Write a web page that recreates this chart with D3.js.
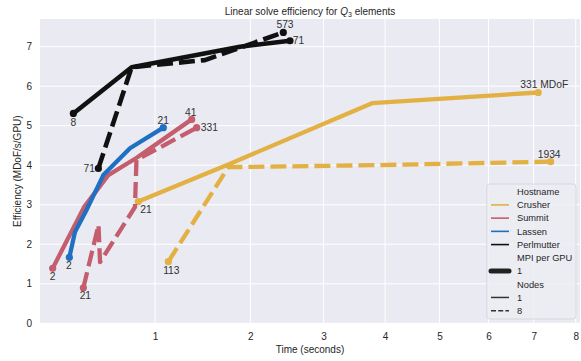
<!DOCTYPE html>
<html>
<head>
<meta charset="utf-8"/>
<script src="https://cdn.jsdelivr.net/npm/d3@7"></script>
<style>
body { margin: 0; background: #fff; }
text { font-family: "Liberation Sans", Arial, sans-serif; fill: #262626; }
.grid line { stroke: #fff; stroke-width: 1; }
.axis path { display: none; }
.axis text { font-size: 10px; }
.point-label { font-size: 10.3px; fill: #333; }
.legend text { font-size: 9.3px; }
</style>
</head>
<body>
<svg id="chart" width="581" height="361"></svg>
<script>
// ---- data ----
var hostnames = ["Crusher", "Summit", "Lassen", "Perlmutter"];
var mpiPerGpu = ["1"];
var nodeCounts = ["1", "8"];
var xTicks = [1, 2, 3, 4, 5, 6, 7, 8];
var yTicks = [0, 1, 2, 3, 4, 5, 6, 7];

var crusher1Time = [0.860, 1.738, 3.775, 7.105];
var crusher1Eff  = [3.08, 4.02, 5.57, 5.84];
var crusher1Labels = ["21", "331 MDoF"];

var crusher8Time = [1.119, 1.738, 3.775, 7.396];
var crusher8Eff  = [1.56, 3.95, 4.00, 4.09];
var crusher8Labels = ["113", "1934"];

var summit1Time = [0.308, 0.478, 0.635, 0.847, 1.344];
var summit1Eff  = [1.39, 2.94, 3.75, 4.19, 5.16];
var summit1Labels = ["2", "41"];

var summit8Time = [0.474, 0.569, 0.579, 0.833, 0.845, 1.395];
var summit8Eff  = [0.90, 2.49, 1.55, 2.94, 4.13, 4.95];
var summit8Labels = ["21", "331"];

var lassen1Time = [0.394, 0.425, 0.490, 0.601, 0.794, 1.073];
var lassen1Eff  = [1.67, 2.31, 2.84, 3.75, 4.43, 4.95];
var lassen1Labels = ["2", "21"];

var perlmutter1Time = [0.416, 0.807, 1.875, 2.517];
var perlmutter1Eff  = [5.31, 6.48, 7.00, 7.15];
var perlmutter1Labels = ["8", "71"];

var perlmutter8Time = [0.568, 0.807, 1.481, 2.426];
var perlmutter8Eff  = [3.92, 6.48, 6.66, 7.36];
var perlmutter8Labels = ["71", "573"];

// ---- styling ----
var hostColor = {
  "Crusher": "#e3b043",
  "Summit": "#c45e6e",
  "Lassen": "#1f6fc2",
  "Perlmutter": "#111111"
};
var nodeDash = { "1": null, "8": "16,6" };

// label placement [dx, dy, anchor] for first and last point
var labelPlace = {
  "Crusher1":    [[2, 11, "start"], [6, -4.7, "middle"]],
  "Crusher8":    [[3, 12.3, "middle"], [-1.5, -3.5, "middle"]],
  "Summit1":     [[0, 12, "middle"], [-1, -3.5, "middle"]],
  "Summit8":     [[2, 11.6, "middle"], [4, 3, "start"]],
  "Lassen1":     [[-0.6, 12, "middle"], [0, -3.7, "middle"]],
  "Perlmutter1": [[0, 12.4, "middle"], [2.7, 3.6, "start"]],
  "Perlmutter8": [[-3.3, 3.4, "end"], [1.7, -4.3, "middle"]]
};

var series = [
  {host: "Crusher", nodes: "1", time: crusher1Time, eff: crusher1Eff, labels: crusher1Labels},
  {host: "Crusher", nodes: "8", time: crusher8Time, eff: crusher8Eff, labels: crusher8Labels},
  {host: "Summit", nodes: "1", time: summit1Time, eff: summit1Eff, labels: summit1Labels},
  {host: "Summit", nodes: "8", time: summit8Time, eff: summit8Eff, labels: summit8Labels},
  {host: "Lassen", nodes: "1", time: lassen1Time, eff: lassen1Eff, labels: lassen1Labels},
  {host: "Perlmutter", nodes: "1", time: perlmutter1Time, eff: perlmutter1Eff, labels: perlmutter1Labels},
  {host: "Perlmutter", nodes: "8", time: perlmutter8Time, eff: perlmutter8Eff, labels: perlmutter8Labels}
];

// ---- layout ----
var plot = {left: 40, top: 19, right: 580, bottom: 323.3};

var x = d3.scaleSqrt()
    .domain([0.25, 8])
    .range([plot.left, 575.7]);
var y = d3.scaleLinear()
    .domain([0, 7.7])
    .range([plot.bottom, plot.top]);

var svg = d3.select("#chart");

svg.append("rect")
    .attr("x", plot.left).attr("y", plot.top)
    .attr("width", plot.right - plot.left)
    .attr("height", plot.bottom - plot.top)
    .attr("fill", "#eaeaf2");

// grid
var grid = svg.append("g").attr("class", "grid");
grid.selectAll("line.v").data(xTicks).enter().append("line")
    .attr("class", "v")
    .attr("x1", function(d) { return x(d); }).attr("x2", function(d) { return x(d); })
    .attr("y1", plot.top).attr("y2", plot.bottom);
grid.selectAll("line.h").data(yTicks).enter().append("line")
    .attr("class", "h")
    .attr("x1", plot.left).attr("x2", plot.right)
    .attr("y1", function(d) { return y(d); }).attr("y2", function(d) { return y(d); });

// axes
svg.append("g")
    .attr("class", "axis")
    .attr("transform", "translate(0," + plot.bottom + ")")
    .call(d3.axisBottom(x).tickValues(xTicks).tickFormat(d3.format("d")).tickSize(0).tickPadding(9.6))
    .selectAll("text").attr("fill", "#262626");
svg.append("g")
    .attr("class", "axis")
    .attr("transform", "translate(" + plot.left + ",0)")
    .call(d3.axisLeft(y).tickValues(yTicks).tickFormat(d3.format("d")).tickSize(0).tickPadding(8))
    .selectAll("text").attr("fill", "#262626");

svg.append("text")
    .attr("x", (plot.left + plot.right) / 2).attr("y", 353)
    .attr("text-anchor", "middle").attr("font-size", "10px")
    .text("Time (seconds)");
svg.append("text")
    .attr("transform", "translate(20.5," + ((plot.top + plot.bottom) / 2) + ") rotate(-90)")
    .attr("text-anchor", "middle").attr("font-size", "10px")
    .text("Efficiency (MDoF/s/GPU)");

var title = svg.append("text")
    .attr("x", (plot.left + plot.right) / 2).attr("y", 14.5)
    .attr("text-anchor", "middle").attr("font-size", "10px");
title.append("tspan").text("Linear solve efficiency for ");
title.append("tspan").attr("font-style", "italic").text("Q");
title.append("tspan").attr("font-size", "7px").attr("dy", 2).text("3");
title.append("tspan").attr("dy", -2).text(" elements");

// lines
var line = d3.line()
    .x(function(d) { return x(d[0]); })
    .y(function(d) { return y(d[1]); });

var marks = svg.append("g");
series.forEach(function(s) {
  var pts = s.time.map(function(t, i) { return [t, s.eff[i]]; });
  marks.append("path")
      .datum(pts)
      .attr("fill", "none")
      .attr("stroke", hostColor[s.host])
      .attr("stroke-width", s.host === "Perlmutter" ? 4.6 : 4.3)
      .attr("stroke-linejoin", "round")
      .attr("stroke-dasharray", nodeDash[s.nodes])
      .attr("d", line);
  var ends = [pts[0], pts[pts.length - 1]];
  marks.selectAll(null).data(ends).enter().append("circle")
      .attr("cx", function(d) { return x(d[0]); })
      .attr("cy", function(d) { return y(d[1]); })
      .attr("r", 3.6)
      .attr("fill", hostColor[s.host]);
  var place = labelPlace[s.host + s.nodes];
  ends.forEach(function(d, i) {
    svg.append("text")
        .attr("class", "point-label")
        .attr("x", x(d[0]) + place[i][0])
        .attr("y", y(d[1]) + place[i][1])
        .attr("text-anchor", place[i][2])
        .text(s.labels[i]);
  });
});

// legend
var leg = svg.append("g").attr("class", "legend");
leg.append("rect")
    .attr("x", 486.7).attr("y", 184).attr("width", 89.3).attr("height", 135)
    .attr("rx", 3)
    .attr("fill", "#ececf3").attr("fill-opacity", 0.85)
    .attr("stroke", "#d2d2d8").attr("stroke-width", 0.8);

var legendRows = [{label: "Hostname"}];
hostnames.forEach(function(h) { legendRows.push({label: h, color: hostColor[h], width: 1.6}); });
legendRows.push({label: "MPI per GPU"});
mpiPerGpu.forEach(function(m) { legendRows.push({label: m, color: "#222", width: 5, cap: "round"}); });
legendRows.push({label: "Nodes"});
nodeCounts.forEach(function(n) { legendRows.push({label: n, color: "#333", width: 1.5, dash: n === "8" ? "5,2.2" : null}); });

legendRows.forEach(function(r, i) {
  var cy = 191.7 + i * 13.22;
  if (r.color) {
    leg.append("line")
        .attr("x1", 491).attr("x2", 509)
        .attr("y1", cy).attr("y2", cy)
        .attr("stroke", r.color)
        .attr("stroke-width", r.width)
        .attr("stroke-linecap", r.cap || "butt")
        .attr("stroke-dasharray", r.dash || null);
  }
  leg.append("text")
      .attr("x", 517).attr("y", cy + 3.3)
      .text(r.label);
});
</script>
</body>
</html>
